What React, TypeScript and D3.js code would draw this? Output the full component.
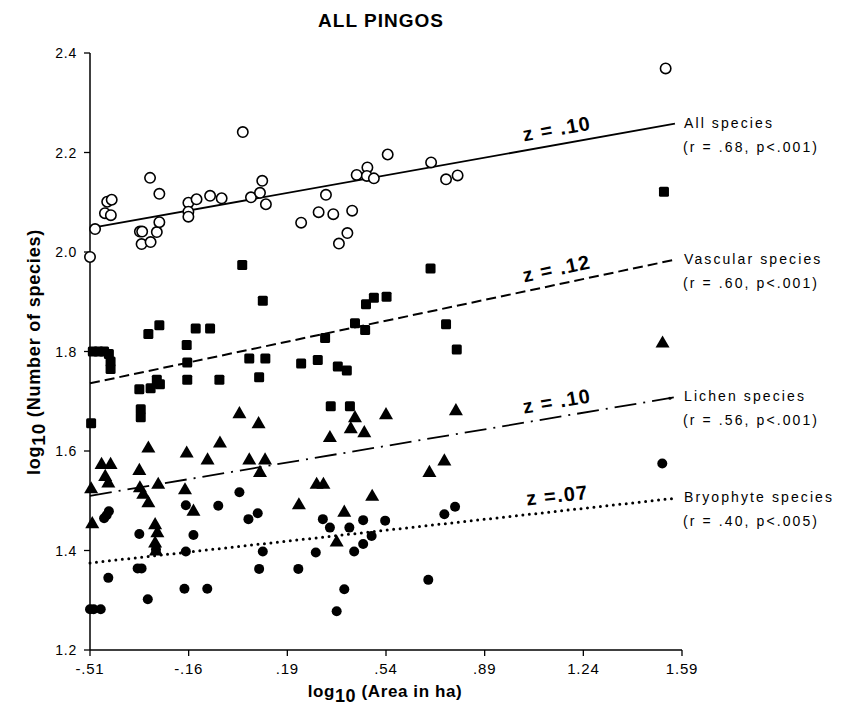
import React from "react";
import * as d3 from "d3";

// log10 area (x) and log10 species count (y) per pingo
const allSpecies: [number, number][] = [
  [-0.51, 1.99], [-0.492, 2.046], [-0.457, 2.078], [-0.449, 2.101], [-0.433, 2.105],
  [-0.436, 2.074], [-0.333, 2.041], [-0.325, 2.041], [-0.327, 2.016], [-0.295, 2.02],
  [-0.273, 2.04], [-0.264, 2.06], [-0.297, 2.149], [-0.264, 2.117], [-0.161, 2.099],
  [-0.161, 2.081], [-0.161, 2.071], [-0.132, 2.106], [-0.084, 2.113], [-0.043, 2.108],
  [0.032, 2.241], [0.061, 2.11], [0.093, 2.119], [0.101, 2.143], [0.114, 2.096],
  [0.239, 2.059], [0.301, 2.08], [0.327, 2.115], [0.353, 2.076], [0.373, 2.017],
  [0.403, 2.038], [0.42, 2.083], [0.436, 2.155], [0.474, 2.17], [0.472, 2.153],
  [0.497, 2.148], [0.546, 2.196], [0.7, 2.18], [0.753, 2.146], [0.794, 2.154],
  [1.532, 2.369],
];

const vascularSpecies: [number, number][] = [
  [-0.5, 1.8], [-0.48, 1.8], [-0.46, 1.8], [-0.443, 1.795], [-0.437, 1.78], [-0.437, 1.765],
  [-0.506, 1.656], [-0.303, 1.835], [-0.264, 1.853], [-0.335, 1.724], [-0.295, 1.726],
  [-0.273, 1.743], [-0.262, 1.734], [-0.33, 1.684], [-0.33, 1.668], [-0.167, 1.813],
  [-0.165, 1.778], [-0.165, 1.743], [-0.135, 1.846], [-0.084, 1.846], [-0.051, 1.743],
  [0.03, 1.974], [0.103, 1.902], [0.055, 1.786], [0.112, 1.786], [0.09, 1.748],
  [0.239, 1.776], [0.298, 1.783], [0.324, 1.827], [0.369, 1.77], [0.401, 1.762],
  [0.43, 1.857], [0.466, 1.843], [0.469, 1.895], [0.497, 1.908], [0.542, 1.91],
  [0.344, 1.69], [0.412, 1.69], [0.698, 1.967], [0.753, 1.855], [0.791, 1.804],
  [1.526, 2.121],
];

const lichenSpecies: [number, number][] = [
  [-0.506, 1.523], [-0.502, 1.453], [-0.469, 1.572], [-0.437, 1.572], [-0.456, 1.548],
  [-0.445, 1.535], [-0.335, 1.56], [-0.303, 1.605], [-0.333, 1.525], [-0.321, 1.512],
  [-0.303, 1.495], [-0.268, 1.532], [-0.279, 1.451], [-0.271, 1.435], [-0.279, 1.414],
  [-0.276, 1.398], [-0.167, 1.595], [-0.173, 1.521], [-0.143, 1.478], [-0.093, 1.581],
  [-0.049, 1.615], [0.02, 1.674], [0.055, 1.581], [0.088, 1.654], [0.111, 1.581],
  [0.093, 1.556], [0.231, 1.491], [0.294, 1.532], [0.318, 1.532], [0.341, 1.626],
  [0.43, 1.666], [0.415, 1.644], [0.463, 1.636], [0.54, 1.672], [0.491, 1.508],
  [0.392, 1.476], [0.365, 1.416], [0.788, 1.68], [0.747, 1.579], [0.694, 1.556],
  [1.521, 1.816],
];

const bryophyteSpecies: [number, number][] = [
  [-0.51, 1.282], [-0.497, 1.282], [-0.472, 1.282], [-0.445, 1.345], [-0.46, 1.465],
  [-0.451, 1.471], [-0.443, 1.479], [-0.335, 1.433], [-0.341, 1.364], [-0.327, 1.364],
  [-0.305, 1.302], [-0.276, 1.402], [-0.17, 1.491], [-0.143, 1.431], [-0.17, 1.398],
  [-0.175, 1.323], [-0.094, 1.323], [-0.055, 1.49], [0.02, 1.517], [0.052, 1.463],
  [0.085, 1.475], [0.103, 1.398], [0.09, 1.363], [0.229, 1.363], [0.291, 1.396],
  [0.316, 1.463], [0.341, 1.446], [0.41, 1.446], [0.459, 1.461], [0.537, 1.46],
  [0.427, 1.398], [0.459, 1.413], [0.489, 1.429], [0.392, 1.322], [0.365, 1.278],
  [0.747, 1.473], [0.785, 1.488], [0.69, 1.341], [1.52, 1.575],
];

// fitted regression lines (start / end)
const fitAll: [number, number][] = [[-0.51, 2.048], [1.565, 2.258]];
const fitVascular: [number, number][] = [[-0.51, 1.736], [1.56, 1.984]];
const fitLichen: [number, number][] = [[-0.51, 1.51], [1.565, 1.708]];
const fitBryophyte: [number, number][] = [[-0.51, 1.375], [1.565, 1.505]];

const xTicks = [-0.51, -0.16, 0.19, 0.54, 0.89, 1.24, 1.59];
const yTicks = [1.2, 1.4, 1.6, 1.8, 2.0, 2.2, 2.4];

const zLabels = ["z = .10", "z = .12", "z = .10", "z =.07"];
const seriesNames = ["All species", "Vascular species", "Lichen species", "Bryophyte species"];
const seriesStats = ["(r = .68, p<.001)", "(r = .60, p<.001)", "(r = .56, p<.001)", "(r = .40, p<.005)"];

const W = 857;
const H = 718;
const font = "'Liberation Sans', Arial, Helvetica, sans-serif";

const fmtX = (v: number) => {
  const s = Math.abs(v).toFixed(2).replace(/^0/, "");
  return v < 0 ? "-" + s : s;
};

const App: React.FC = () => {
  const x = d3.scaleLinear().domain([-0.51, 1.59]).range([90, 682]);
  const y = d3.scaleLinear().domain([1.2, 2.4]).range([650, 53]);
  const line = d3
    .line<[number, number]>()
    .x((d) => x(d[0]))
    .y((d) => y(d[1]));

  const fits = [fitAll, fitVascular, fitLichen, fitBryophyte];
  const dashes = ["", "10,5", "22,7,2,7", "0,6.5"];
  const widths = [1.8, 2, 1.8, 3];

  const tri = d3.symbol().type(d3.symbolTriangle).size(85)();

  return (
    <svg
      width={W}
      height={H}
      style={{ position: "absolute", left: 0, top: 0, background: "#fff" }}
      fontFamily={font}
    >
      <text x={381} y={27} textAnchor="middle" fontSize={19} fontWeight="bold" letterSpacing={1}>
        ALL PINGOS
      </text>

      {/* axes */}
      <line x1={x(-0.51)} x2={x(-0.51)} y1={y(2.4)} y2={y(1.2)} stroke="#000" strokeWidth={1.5} />
      <line x1={x(-0.51)} x2={x(1.59)} y1={y(1.2)} y2={y(1.2)} stroke="#000" strokeWidth={1.5} />
      {yTicks.map((t) => (
        <g key={"y" + t}>
          <line x1={x(-0.51) - 6} x2={x(-0.51)} y1={y(t)} y2={y(t)} stroke="#000" strokeWidth={1.3} />
          <text x={x(-0.51) - 13} y={y(t) + 5} textAnchor="end" fontSize={14} letterSpacing={0.8}>
            {t.toFixed(1)}
          </text>
        </g>
      ))}
      {xTicks.map((t) => (
        <g key={"x" + t}>
          <line x1={x(t)} x2={x(t)} y1={y(1.2)} y2={y(1.2) + 6} stroke="#000" strokeWidth={1.3} />
          <text x={x(t)} y={y(1.2) + 24} textAnchor="middle" fontSize={15} letterSpacing={0.8}>
            {fmtX(t)}
          </text>
        </g>
      ))}

      <text x={385} y={697} textAnchor="middle" fontSize={17} fontWeight="bold" letterSpacing={0.6}>
        log<tspan dy={5} fontSize={18}>10</tspan>
        <tspan dy={-5}> (Area in ha)</tspan>
      </text>
      <text
        transform="translate(40,352) rotate(-90)"
        textAnchor="middle"
        fontSize={18}
        fontWeight="bold"
        letterSpacing={0.8}
      >
        log<tspan dy={5} fontSize={19}>10</tspan>
        <tspan dy={-5}> (Number of species)</tspan>
      </text>

      {/* regression lines */}
      {fits.map((f, i) => (
        <path
          key={"f" + i}
          d={line(f) || ""}
          fill="none"
          stroke="#000"
          strokeWidth={widths[i]}
          strokeDasharray={dashes[i] || undefined}
          strokeLinecap={i === 3 ? "round" : "butt"}
        />
      ))}
      <circle cx={x(1.565) - 5} cy={y(1.708) + 1} r={1.6} fill="#000" />

      {/* z labels along the lines */}
      {fits.map((f, i) => {
        const mx = 1.15;
        const my = f[0][1] + ((f[1][1] - f[0][1]) * (mx - f[0][0])) / (f[1][0] - f[0][0]);
        const ang =
          (Math.atan2(y(f[1][1]) - y(f[0][1]), x(f[1][0]) - x(f[0][0])) * 180) / Math.PI;
        return (
          <text
            key={"z" + i}
            transform={`translate(${x(mx)},${y(my) - 9}) rotate(${ang})`}
            textAnchor="middle"
            fontSize={20}
            fontWeight="bold"
            letterSpacing={1.2}
          >
            {zLabels[i]}
          </text>
        );
      })}

      {/* series labels */}
      {fits.map((f, i) => (
        <g key={"n" + i} fontSize={14} letterSpacing={2.1}>
          <text x={684} y={y(f[1][1]) + 4}>
            {seriesNames[i]}
          </text>
          <text x={683} y={y(f[1][1]) + 28}>
            {seriesStats[i]}
          </text>
        </g>
      ))}

      {/* markers */}
      {allSpecies.map((d, i) => (
        <circle key={"a" + i} cx={x(d[0])} cy={y(d[1])} r={5.2} fill="#fff" stroke="#000" strokeWidth={1.6} />
      ))}
      {vascularSpecies.map((d, i) => (
        <rect key={"v" + i} x={x(d[0]) - 5} y={y(d[1]) - 5} width={10} height={10} rx={1.5} fill="#000" />
      ))}
      {lichenSpecies.map((d, i) => (
        <path key={"l" + i} d={tri || ""} transform={`translate(${x(d[0])},${y(d[1])})`} fill="#000" />
      ))}
      {bryophyteSpecies.map((d, i) => (
        <circle key={"b" + i} cx={x(d[0])} cy={y(d[1])} r={5} fill="#000" />
      ))}
    </svg>
  );
};

export default App;
